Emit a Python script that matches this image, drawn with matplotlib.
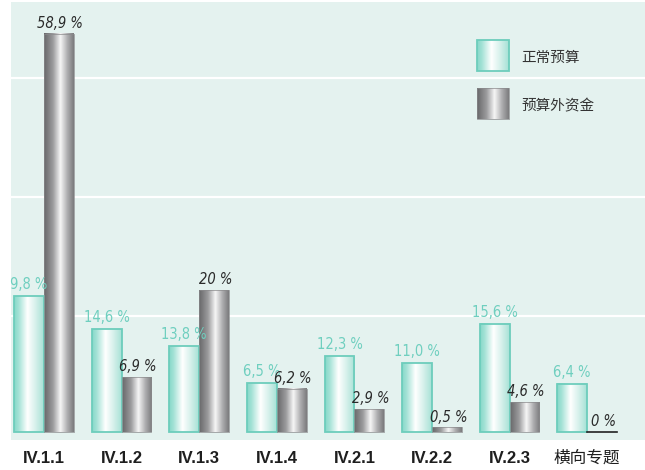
import numpy as np
import matplotlib
matplotlib.use('Agg')
import matplotlib.pyplot as plt
from matplotlib.colors import LinearSegmentedColormap
from matplotlib.patches import Rectangle

# categories and values (heights as drawn in the picture, labels as printed)
categories = ['IV.1.1', 'IV.1.2', 'IV.1.3', 'IV.1.4', 'IV.2.1', 'IV.2.2', 'IV.2.3', '横向专题']
regular_heights = [20.1, 15.2, 12.7, 7.2, 11.2, 10.2, 16.0, 7.1]
extra_heights = [58.9, 8.1, 21.0, 6.4, 3.4, 0.7, 4.4, 0.0]
regular_labels = ['9,8 %', '14,6 %', '13,8 %', '6,5 %', '12,3 %', '11,0 %', '15,6 %', '6,4 %']
extra_labels = ['58,9 %', '6,9 %', '20 %', '6,2 %', '2,9 %', '0,5 %', '4,6 %', '0 %']
series_names = ['正常预算', '预算外资金']
grid_values = [17.2, 34.8, 52.4]

BG = '#e4f2ef'
TEAL = '#6dcdbc'
TEAL_TXT = '#6fcfbf'

teal_cmap = LinearSegmentedColormap.from_list('teal', [
    (0.0, '#86d8c9'), (0.15, '#a4e2d6'), (0.45, '#ffffff'),
    (0.75, '#d2efe9'), (1.0, '#a6e1d6')])
gray_cmap = LinearSegmentedColormap.from_list('gray', [
    (0.0, '#68686a'), (0.3, '#9c9c9e'), (0.55, '#f6f6f6'),
    (0.78, '#b0b0b2'), (1.0, '#7c7c7e')])
grad = np.linspace(0, 1, 64).reshape(1, -1)

cjk = ['Noto Sans CJK SC', 'DejaVu Sans']


def gradient_bar(ax, x0, w, h, cmap, edge, lw):
    ax.imshow(grad, extent=[x0, x0 + w, 0, h], aspect='auto', cmap=cmap,
              interpolation='bilinear', zorder=2)
    ax.add_patch(Rectangle((x0, 0), w, h, facecolor='none', edgecolor=edge,
                           linewidth=lw, zorder=3))


fig = plt.figure(figsize=(6.45, 4.7), dpi=100)
ax = fig.add_axes([11 / 645, 30 / 470, 634 / 645, 438 / 470])
ax.set_facecolor(BG)

w = 0.385
x = np.arange(len(categories))

for v in grid_values:
    ax.axhline(v, color='white', linewidth=1.6, zorder=1)

for i in range(len(categories)):
    gradient_bar(ax, x[i] - w, w, regular_heights[i], teal_cmap, TEAL, 1.3)
    ax.annotate(regular_labels[i], (x[i] - w / 2, regular_heights[i]),
                xytext=(0, 3), textcoords='offset points', ha='center', va='bottom',
                color=TEAL_TXT, fontsize=10.5, family='DejaVu Sans', stretch='condensed',
                zorder=5)
    if extra_heights[i] > 0:
        gradient_bar(ax, x[i], w, extra_heights[i], gray_cmap, '#8a8a8c', 0.5)
    else:
        ax.plot([x[i], x[i] + w], [0, 0], color='#222222', linewidth=1.2, zorder=3)
    ax.annotate(extra_labels[i], (x[i] + w / 2, extra_heights[i]),
                xytext=(1, 2), textcoords='offset points', ha='center', va='bottom',
                color='#2a2a2a', fontsize=10.5, style='oblique', family='DejaVu Sans',
                stretch='condensed', zorder=5)

ax.set_xticks([])
ax.set_yticks([])
for s in ax.spines.values():
    s.set_visible(False)

# category labels below the plot area
for i, c in enumerate(categories):
    if c.isascii():
        ax.text(x[i], -3.9, c, ha='center', va='center', fontsize=12, fontweight='bold',
                color='#1e1e1e', family=['Liberation Sans', 'DejaVu Sans'])
    else:
        ax.text(x[i], -3.9, c, ha='center', va='center', fontsize=12,
                color='#1e1e1e', family=cjk)

# legend drawn as patches in axes fraction
legend_items = [(series_names[0], teal_cmap, TEAL, 1.3), (series_names[1], gray_cmap, '#8a8a8c', 0.5)]
for k, (name, cmap, edge, lw) in enumerate(legend_items):
    y0 = [0.842, 0.732][k]
    bx0 = (477 - 11) / 634
    bw = 32 / 634
    bh = 31 / 438
    ax.imshow(grad, extent=[bx0, bx0 + bw, y0, y0 + bh], aspect='auto', cmap=cmap,
              interpolation='bilinear', transform=ax.transAxes, zorder=4)
    ax.add_patch(Rectangle((bx0, y0), bw, bh, facecolor='none', edgecolor=edge,
                           linewidth=lw, transform=ax.transAxes, zorder=5))
    ax.text(bx0 + bw + 0.02, y0 + bh / 2 - 0.006, name, transform=ax.transAxes,
            ha='left', va='center', fontsize=10.5, color='#333333', family=cjk)

ax.set_xlim(-0.425, 7.745)
ax.set_ylim(-1.18, 63.6)

fig.savefig('out.png', dpi=100, facecolor='white')
